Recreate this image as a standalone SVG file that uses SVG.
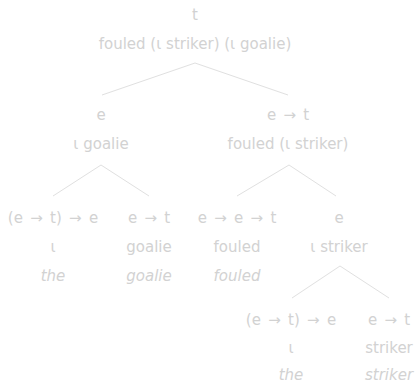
<svg xmlns="http://www.w3.org/2000/svg" width="419" height="383" viewBox="0 0 419 383">
<style>
text{font-family:"DejaVu Sans","Liberation Sans",sans-serif;font-size:15px;fill:#d2d2d2;text-anchor:middle}
.w{font-style:italic}
.t{word-spacing:2.5px}
.e{stroke:#e0e0e0;stroke-width:1;fill:none}
</style>
<rect width="419" height="383" fill="#fff"/>
<g id="connectors">
<path class="e" d="M102,95 L195,63 L288,95"/>
<path class="e" d="M53,196 L101,165 L149,196"/>
<path class="e" d="M237,196 L289,165 L336,196"/>
<path class="e" d="M292,298 L340,266 L389,298"/>
</g>
<g id="root"><text class="t" x="195" y="20">t</text><text x="195" y="49">fouled (ι striker) (ι goalie)</text></g>
<g id="n_e_goalie"><text class="t" x="101" y="120">e</text><text x="101" y="149">ι goalie</text></g>
<g id="n_et_fouled"><text class="t" x="288" y="120">e → t</text><text x="288" y="149">fouled (ι striker)</text></g>
<g id="n_the1"><text class="t" x="53" y="223">(e → t) → e</text><text x="53" y="252">ι</text><text class="w" x="53" y="281">the</text></g>
<g id="n_goalie"><text class="t" x="149" y="223">e → t</text><text x="149" y="252">goalie</text><text class="w" x="149" y="281">goalie</text></g>
<g id="n_fouled"><text class="t" x="237" y="223">e → e → t</text><text x="237" y="252">fouled</text><text class="w" x="237" y="281">fouled</text></g>
<g id="n_e_striker"><text class="t" x="339" y="223">e</text><text x="339" y="252">ι striker</text></g>
<g id="n_the2"><text class="t" x="291" y="325">(e → t) → e</text><text x="291" y="353">ι</text><text class="w" x="291" y="380">the</text></g>
<g id="n_striker"><text class="t" x="389" y="325">e → t</text><text x="389" y="353">striker</text><text class="w" x="389" y="380">striker</text></g>
</svg>
